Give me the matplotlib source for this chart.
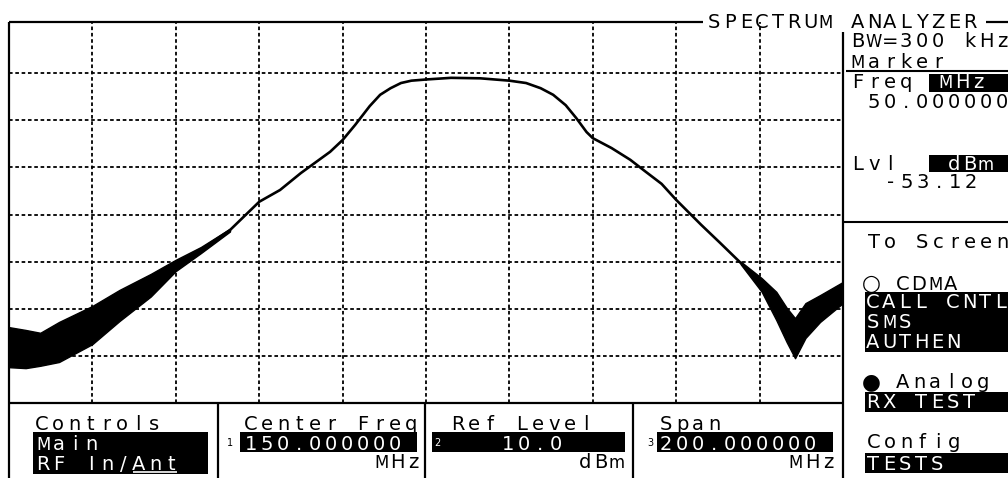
import numpy as np
import matplotlib.pyplot as plt
from matplotlib.patches import Rectangle

#----------------------------------
# trace (MHz, dBm)
#----------------------------------
freq_mhz = [50, 54, 57.5, 62, 70, 76.5, 84, 90, 96, 103,
            110, 115, 120, 127, 130, 133, 136.5, 139, 141.5, 144,
            146.5, 150, 156, 163, 170, 174, 177.5, 180.5, 183.5, 186,
            188.5, 190, 194.5, 199, 202.5, 206.5, 210, 216, 220.5, 225.5,
            230.5, 234, 236.5, 238.5, 241, 244.5, 250]
level_dbm = [-58.1, -58.8, -58.8, -57.3, -53.4, -49.2, -45.0, -40.7, -37.5, -33.3,
             -27.3, -24.8, -21.2, -16.7, -14.2, -11.0, -7.0, -4.6, -3.2, -2.1,
             -1.6, -1.35, -1.0, -1.1, -1.6, -2.1, -3.2, -4.6, -6.8, -9.5,
             -12.5, -13.8, -15.9, -18.4, -20.8, -23.5, -26.9, -32.2, -36.0, -40.3,
             -45.0, -49.6, -53.0, -56.0, -52.4, -49.6, -46.7]

# noise band (top / bottom of the black smear)
noise_left_mhz = [50, 54, 57.5, 62, 70, 76.5, 84, 90, 96, 103]
noise_left_top = [-53.9, -54.5, -55.1, -52.8, -49.4, -46.0, -42.6, -39.6, -36.9, -33.0]
noise_left_bot = [-62.4, -62.6, -62.1, -61.3, -57.5, -52.6, -47.4, -42.0, -38.2, -33.6]
noise_right_mhz = [225.5, 230.5, 234, 236.5, 238.5, 241, 244.5, 250]
noise_right_top = [-40.0, -43.5, -46.4, -49.8, -52.0, -48.8, -47.1, -44.3]
noise_right_bot = [-40.6, -46.4, -52.4, -57.1, -60.5, -56.2, -52.8, -48.8]

W, H = 1008, 478
fig = plt.figure(figsize=(W/100, H/100), dpi=100)

# plot area in screen pixels
ax = fig.add_axes([9/W, 1-403/H, (843-9)/W, (403-22)/H])
ax.set_xlim(50, 250)
ax.set_ylim(-70, 10.85)
ax.set_xticks(np.arange(70, 250, 20))
ax.set_yticks(np.arange(-60, 10, 10))
ax.grid(True, color='black', lw=1.3, linestyle=(0, (2.0, 1.5)))
ax.tick_params(length=0, labelbottom=False, labelleft=False)
for s in ax.spines.values():
    s.set_visible(False)

ax.fill_between(noise_left_mhz, noise_left_bot, noise_left_top, color='black', lw=1)
ax.fill_between(noise_right_mhz, noise_right_bot, noise_right_top, color='black', lw=1)
ax.plot(freq_mhz, level_dbm, color='black', lw=1.9)

#----------------------------------
# screen furniture, pixel coords
#----------------------------------
ov = fig.add_axes([0, 0, 1, 1])
ov.set_xlim(0, W)
ov.set_ylim(H, 0)
ov.axis('off')

def line(x, y, lw=1.5, color='black'):
    ov.plot(x, y, color=color, lw=lw, solid_capstyle='butt')

def box(x0, y0, x1, y1):
    ov.add_patch(Rectangle((x0, y0), x1-x0, y1-y0, color='black', lw=0))

def hp(x0, yb, s, color='black', size=14, pitch=16):
    # fixed pitch like the instrument font
    for i, ch in enumerate(s):
        if ch == ' ':
            continue
        sz = size
        if ch in '○●':
            sz = size*1.12
        elif ch in 'WMm':
            sz = size*0.85
        ov.text(x0 + 6 + i*pitch, yb, ch, ha='center', va='baseline',
                fontsize=sz, color=color, family='DejaVu Sans')

line([9, 9], [22, 478], lw=1.6)
line([9, 703], [22, 22], lw=1.6)
line([986, 1008], [22, 22], lw=1.6)
line([843, 843], [32, 478], lw=1.6)
line([9, 843], [403, 403], lw=1.6)
for xs in [218, 425, 633]:
    line([xs, xs], [403, 478], lw=1.6)
line([846, 1008], [71, 71])
line([843, 1008], [222, 222])

# black boxes
box(929, 74, 1008, 92)
box(929, 155, 1008, 172)
box(865, 292, 1008, 352)
box(865, 392, 1008, 412)
box(865, 453, 1008, 473)
box(33, 432, 208, 474)
box(240, 432, 417, 452)
box(432, 432, 625, 452)
box(657, 432, 833, 452)

# right panel
hp(708, 28, "SPECTRUM ANALYZER")
hp(852, 47, "BW=300 kHz")
hp(852, 68, "Marker")
hp(852, 88, "Freq")
hp(940, 88, "MHz", color='white')
hp(868, 108, "50.000000")
hp(852, 170, "Lvl")
hp(948, 170, "dBm", color='white')
hp(885, 188, "-53.12")
hp(868, 248, "To Screen")
hp(865, 290, "○ CDMA")
hp(867, 308, "CALL CNTL", color='white')
hp(867, 328, "SMS", color='white')
hp(867, 348, "AUTHEN", color='white')
hp(865, 388, "● Analog")
hp(867, 408, "RX TEST", color='white')
hp(868, 448, "Config")
hp(867, 470, "TESTS", color='white')

# bottom panel
hp(36, 430, "Controls")
hp(37, 450, "Main", color='white')
hp(37, 470, "RF In/Ant", color='white')
line([133, 177], [472, 472], lw=1.2, color='white')

hp(245, 430, "Center Freq")
ov.text(230, 446, "1", ha='center', va='baseline', fontsize=7)
hp(245, 450, "150.000000", color='white')
hp(375, 468, "MHz")

hp(452, 430, "Ref Level")
ov.text(437, 446, "2", ha='center', va='baseline', fontsize=7, color='white')
hp(502, 450, "10.0", color='white')
hp(579, 468, "dBm")

hp(660, 430, "Span")
ov.text(650, 446, "3", ha='center', va='baseline', fontsize=7)
hp(660, 450, "200.000000", color='white')
hp(790, 468, "MHz")

fig.savefig("out.png", dpi=100)
